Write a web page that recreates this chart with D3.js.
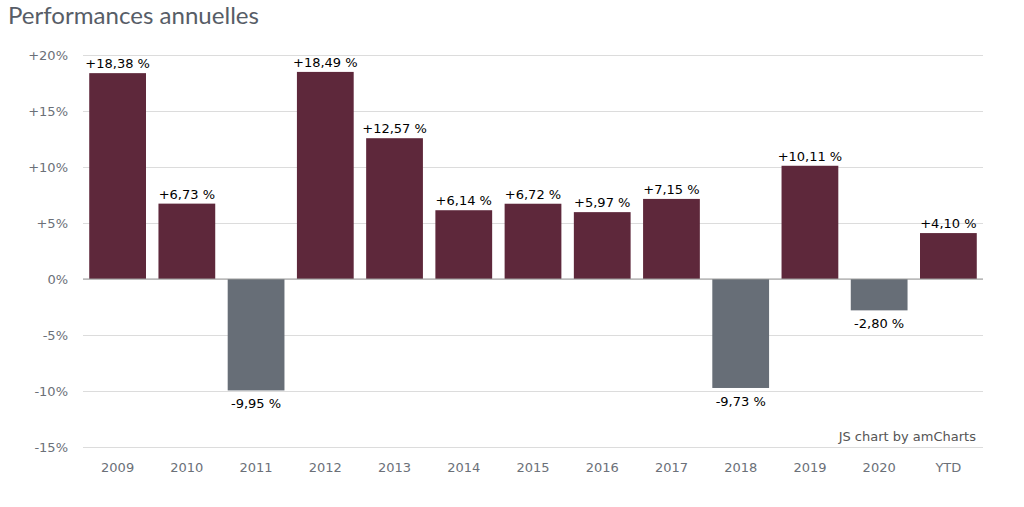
<!DOCTYPE html>
<html><head><meta charset="utf-8">
<script src="https://cdn.jsdelivr.net/npm/d3@7"></script>
<style>
body{margin:0;background:#fff;}
svg{display:block;}
</style></head>
<body>
<svg id="chart" width="1024" height="507"></svg>
<script>
const categories = ["2009","2010","2011","2012","2013","2014","2015","2016","2017","2018","2019","2020","YTD"];
const values = [18.38, 6.73, -9.95, 18.49, 12.57, 6.14, 6.72, 5.97, 7.15, -9.73, 10.11, -2.80, 4.10];
const yTicks = [-15, -10, -5, 0, 5, 10, 15, 20];

(function(){
const svg = d3.select("#chart");
const mLeft = 83, mRight = 983, mTop = 55, mBottom = 447;
const font = "'DejaVu Sans', Verdana, sans-serif";

const x = d3.scaleBand().domain(categories).range([mLeft, mRight]).paddingInner(0.18).paddingOuter(0.09);
const y = d3.scaleLinear().domain([-15, 20]).range([mBottom, mTop]);

const title = svg.append("text").attr("x", 8).attr("y", 24)
  .attr("font-family", "Lato, 'Open Sans', sans-serif").attr("font-size", 24)
  .attr("fill", "#575d67").text("Performances annuelles");
const tw = title.node().getComputedTextLength();
if (tw > 0) title.attr("textLength", 251).attr("lengthAdjust", "spacingAndGlyphs");

// grid
const yAxis = d3.axisLeft(y).tickValues(yTicks).tickSize(-(mRight - mLeft))
  .tickFormat(d => (d > 0 ? "+" : "") + d + "%");
const gy = svg.append("g").attr("transform", `translate(${mLeft},0)`).call(yAxis);
gy.select(".domain").remove();
gy.selectAll(".tick line").attr("stroke", "#dcdcdc").attr("stroke-width", 1);
gy.selectAll(".tick text").attr("x", -15).attr("fill", "#6b7078")
  .attr("font-family", font).attr("font-size", 13);

// bars
svg.append("g").selectAll("rect").data(values).join("rect")
  .attr("x", (d, i) => x(categories[i]))
  .attr("width", x.bandwidth())
  .attr("y", d => y(Math.max(0, d)))
  .attr("height", d => Math.abs(y(d) - y(0)))
  .attr("fill", d => d >= 0 ? "#5e283b" : "#676e77");

// zero line
svg.append("line").attr("x1", mLeft).attr("x2", mRight).attr("y1", y(0)).attr("y2", y(0))
  .attr("stroke", "#9a9a9a").attr("stroke-width", 1);

// value labels
const fmt = d => (d >= 0 ? "+" : "") + d.toFixed(2).replace(".", ",") + " %";
svg.append("g").selectAll("text").data(values).join("text")
  .attr("x", (d, i) => x(categories[i]) + x.bandwidth() / 2)
  .attr("y", d => d >= 0 ? y(d) - 5 : y(d) + 18)
  .attr("text-anchor", "middle")
  .attr("font-family", font).attr("font-size", 13)
  .attr("fill", "#000").text(fmt);

// x axis
const xAxis = d3.axisBottom(x).tickSize(0).tickPadding(16);
const gx = svg.append("g").attr("transform", `translate(0,${mBottom})`).call(xAxis);
gx.select(".domain").remove();
gx.selectAll(".tick text").attr("fill", "#6b7078")
  .attr("font-family", font).attr("font-size", 13);

svg.append("text").attr("x", 976).attr("y", 441).attr("text-anchor", "end")
  .attr("font-family", font).attr("font-size", 13)
  .attr("fill", "#555").text("JS chart by amCharts");
})();
</script>
</body></html>
